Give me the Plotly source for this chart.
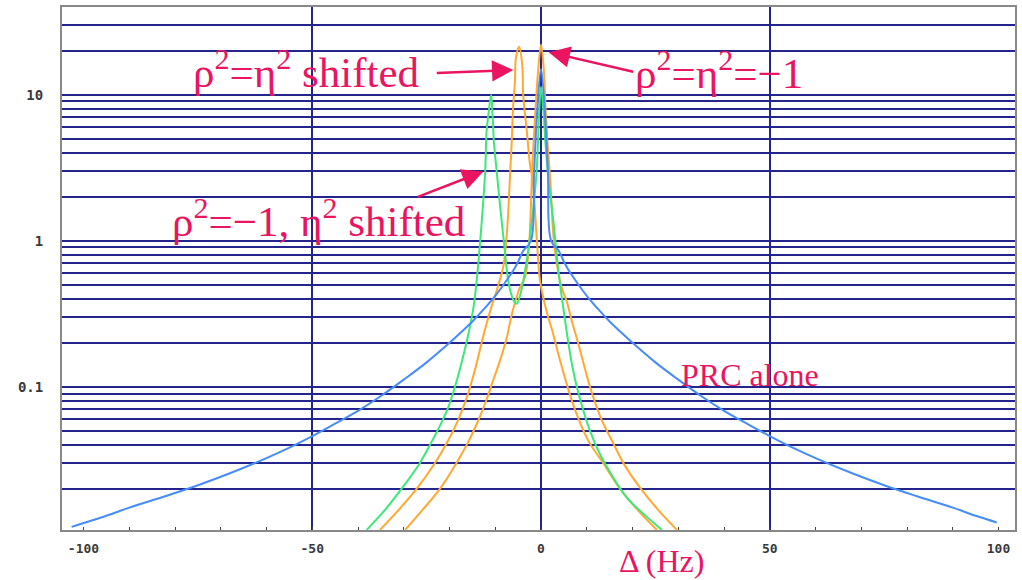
import plotly.graph_objects as go

# ---- data ----
prc_x = [-102.6, -95, -90, -82, -75, -68, -60, -55, -50, -45, -40, -35, -30, -25, -20, -17, -15, -12.5,
         -10, -8, -6, -5, -3.9, -2.2, -1.5, -0.8, 0,
         0.8, 1.5, 2.2, 3.9, 5, 6, 8, 10, 12.5, 15, 17, 20, 25, 30, 35, 40, 45, 50, 55, 60, 68, 75,
         82, 90, 95, 99.6]
prc_y = [0.0110, 0.0131, 0.0149, 0.0179, 0.0212, 0.0256, 0.0325, 0.0383, 0.046, 0.056, 0.0685, 0.0865,
         0.112, 0.147, 0.20, 0.244, 0.28, 0.34, 0.42, 0.51, 0.63, 0.72, 0.85, 1.0, 3.0, 8.0, 15,
         8.0, 3.0, 1.0, 0.85, 0.72, 0.63, 0.51, 0.42, 0.34, 0.28, 0.244, 0.20, 0.147, 0.112, 0.0865,
         0.0685, 0.056, 0.046, 0.0383, 0.0325, 0.0256, 0.0212, 0.0179, 0.0149, 0.0131, 0.0118]

green_x = [-38.1, -34, -30.5, -26.5, -24.1, -22.1, -20.3, -18.8, -17.4, -16.0, -14.7, -13.8, -13.0,
           -12.2, -11.9, -11.5, -10.9, -10.6, -10.3, -9.7, -8.2, -6.9, -5.8, -5.3, -4.6, -3.5, -2.0,
           -0.95, -0.4, 0, 0.5, 1.0, 1.6, 2.7, 3.8, 4.5, 5.6, 6.8, 8.2, 10.7, 13, 15.1, 18.7, 22.4, 26.4]
green_y = [0.0105, 0.0145, 0.02, 0.03, 0.041, 0.054, 0.072, 0.1, 0.145, 0.22, 0.36, 0.65, 1.3,
           3.0, 5.6, 7.3, 10, 7.3, 4.8, 3.0, 1.04, 0.48, 0.38, 0.37, 0.42, 0.62, 1.36,
           3.0, 7.7, 11.3, 8, 4.5, 2.7, 1.36, 0.62, 0.42, 0.24, 0.14, 0.09, 0.05, 0.034, 0.026,
           0.0175, 0.0135, 0.0105]

orange_shift_x = [-35.2, -31, -27.2, -23.2, -20.5, -18.3, -16.3, -14.4, -12.6, -11.0, -9.3, -8.2,
                  -7.4, -6.8, -6.4, -6.1, -5.7, -5.5, -4.8, -4.1, -3.9, -3.1, -2.4, -1.8, -0.9, -0.2,
                  1.2, 2.5, 4.2, 5.8, 7.4, 10.3, 13.6, 17.3, 21, 25.3]
orange_shift_y = [0.0105, 0.0145, 0.020, 0.030, 0.0417, 0.0575, 0.083, 0.132, 0.224, 0.339, 0.50, 0.68,
                  1.2, 2.7, 4.8, 8.1, 12.3, 17.7, 21.3, 16, 10, 5.6, 3.3, 2.55, 1.0, 0.53,
                  0.33, 0.24, 0.15, 0.1, 0.07, 0.043, 0.03, 0.02, 0.0145, 0.0105]

orange_center_x = [-29.7, -25.8, -22.1, -18.5, -15.9, -13.9, -12.0, -10.5, -9.0, -7.6, -6.2, -4.6, -3.5,
                   -2.6, -2.0, -1.7, -1.2, -0.6, 0, 0.6, 0.9, 1.4, 2.0, 2.8, 3.8, 4.6, 5.6, 6.9, 8.2,
                   10.7, 13, 15.8, 18.3, 21.6, 25.5, 29.7]
orange_center_y = [0.0105, 0.0145, 0.02, 0.03, 0.042, 0.057, 0.08, 0.11, 0.15, 0.21, 0.33, 0.48, 0.56,
                   0.95, 2.7, 4.3, 8, 15, 22, 15, 9.4, 4.8, 2.7, 1.0, 0.6, 0.47, 0.386, 0.27, 0.195,
                   0.1, 0.062, 0.041, 0.029, 0.0205, 0.0145, 0.0105]

x_tick_vals = [-100, -50, 0, 50, 100]
x_grid_vals = [-50, 0, 50]
y_grid_vals = [0.02, 0.03, 0.04, 0.05, 0.06, 0.07, 0.08, 0.09,
               0.1, 0.2, 0.3, 0.4, 0.5, 0.6, 0.7, 0.8, 0.9,
               1, 2, 3, 4, 5, 6, 7, 8, 9, 10, 20, 30]
y_label_map = {0.1: "0.1", 1: "1", 10: "10"}

BLUE = "rgb(70,140,250)"
GREEN = "rgb(60,232,120)"
ORANGE = "rgb(255,168,50)"
PINK = "#ea1460"
GRID = "#24248c"

W, H = 1022, 580
L, R, T, B = 62, 7, 5, 50
PW, PH = W - L - R, H - T - B

fig = go.Figure()
line_kw = dict(shape="spline", smoothing=1.0)
fig.add_trace(go.Scatter(x=orange_center_x, y=orange_center_y, mode="lines",
                         line=dict(color=ORANGE, width=2, **line_kw)))
fig.add_trace(go.Scatter(x=orange_shift_x, y=orange_shift_y, mode="lines",
                         line=dict(color=ORANGE, width=2, **line_kw)))
fig.add_trace(go.Scatter(x=green_x, y=green_y, mode="lines",
                         line=dict(color=GREEN, width=2, **line_kw)))
fig.add_trace(go.Scatter(x=prc_x, y=prc_y, mode="lines",
                         line=dict(color=BLUE, width=2, **line_kw)))
fig.add_trace(go.Scatter(x=[0], y=[1], mode="markers", marker=dict(opacity=0),
                         xaxis="x2", hoverinfo="skip"))

tick_font = dict(family="DejaVu Sans Mono", size=13, color="#3a3a3a", weight="bold")
xr = [-104.7, 103.6]
fig.update_layout(
    width=W, height=H,
    margin=dict(l=L, r=R, t=T, b=B),
    paper_bgcolor="white", plot_bgcolor="white",
    showlegend=False,
    xaxis=dict(range=xr, tickvals=x_grid_vals, showticklabels=False, showgrid=True,
               gridcolor=GRID, gridwidth=2, zeroline=False, showline=True, linecolor="#888888",
               linewidth=2, mirror=True, ticks=""),
    xaxis2=dict(range=xr, overlaying="x", side="bottom", tickvals=x_tick_vals,
                ticktext=[str(v) for v in x_tick_vals], showgrid=False, zeroline=False,
                showline=False, ticks="outside", ticklen=6, tickcolor="rgba(0,0,0,0)",
                tickfont=tick_font,
                minor=dict(ticks="inside", ticklen=3, dtick=10, tick0=0, tickcolor="#444444",
                           showgrid=False)),
    yaxis=dict(type="log", range=[-1.98, 1.60], tickvals=y_grid_vals,
               ticktext=[y_label_map.get(v, "") for v in y_grid_vals],
               showgrid=True, gridcolor=GRID, gridwidth=1.6, zeroline=False,
               showline=True, linecolor="#888888", linewidth=2, mirror=True,
               ticks="outside", ticklen=14, tickcolor="rgba(0,0,0,0)",
               tickfont=dict(family="DejaVu Sans Mono", size=14, color="#3a3a3a", weight="bold")),
)

serif = "Liberation Serif"
texts = [
    dict(x=191, y=67, text="ρ<sup>2</sup>=η<sup>2</sup> shifted", size=43),
    dict(x=633, y=68, text="ρ<sup>2</sup>=η<sup>2</sup>=−1", size=43),
    dict(x=170, y=217, text="ρ<sup>2</sup>=−1, η<sup>2</sup> shifted", size=43),
    dict(x=679, y=374, text="PRC alone", size=32),
    dict(x=617, y=561, text="Δ (Hz)", size=32),
]
for t in texts:
    fig.add_annotation(x=(t["x"] - L) / PW, y=(H - B - t["y"]) / PH, xref="paper", yref="paper",
                       text=t["text"], showarrow=False, xanchor="left", yanchor="middle",
                       font=dict(family=serif, size=t["size"], color=PINK))

# arrows (tip in data coords, tail offset in pixels)
arrows = [(-6.06, 1.169, -78, 3), (1.68, 1.291, 86, 20), (-12.6, 0.474, -67, 26)]
for ax_, ay_, dx, dy in arrows:
    fig.add_annotation(x=ax_, y=ay_, xref="x", yref="y", ax=dx, ay=dy, text="",
                       showarrow=True, arrowhead=2, arrowsize=1.7, arrowwidth=2.5,
                       arrowcolor=PINK)

fig.write_html("out.html")
